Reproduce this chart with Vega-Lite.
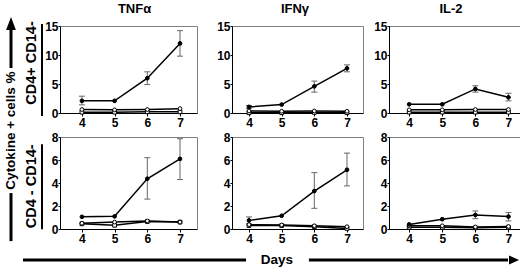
{
"$schema": "https://vega.github.io/schema/vega-lite/v6.json",
"padding": {"left": 3, "top": 2, "right": 0, "bottom": 0},
"background": "white",
"datasets": {
"d": [
{"r":"p","c":"TNF","s":"a","d":4,"v":2.1,"lo":1.4,"hi":2.9},
{"r":"p","c":"TNF","s":"a","d":5,"v":2.1},
{"r":"p","c":"TNF","s":"a","d":6,"v":6.0,"lo":4.9,"hi":7.1},
{"r":"p","c":"TNF","s":"a","d":7,"v":12.0,"lo":9.8,"hi":14.2},
{"r":"p","c":"TNF","s":"b","d":4,"v":0.6},
{"r":"p","c":"TNF","s":"b","d":5,"v":0.55},
{"r":"p","c":"TNF","s":"b","d":6,"v":0.6},
{"r":"p","c":"TNF","s":"b","d":7,"v":0.75},
{"r":"p","c":"TNF","s":"c","d":4,"v":0.15},
{"r":"p","c":"TNF","s":"c","d":5,"v":0.15},
{"r":"p","c":"TNF","s":"c","d":6,"v":0.2},
{"r":"p","c":"TNF","s":"c","d":7,"v":0.2},
{"r":"p","c":"IFN","s":"a","d":4,"v":1.05,"lo":0.8,"hi":1.3},
{"r":"p","c":"IFN","s":"a","d":5,"v":1.45},
{"r":"p","c":"IFN","s":"a","d":6,"v":4.6,"lo":3.6,"hi":5.5},
{"r":"p","c":"IFN","s":"a","d":7,"v":7.7,"lo":7.1,"hi":8.3},
{"r":"p","c":"IFN","s":"b","d":4,"v":0.35},
{"r":"p","c":"IFN","s":"b","d":5,"v":0.3},
{"r":"p","c":"IFN","s":"b","d":6,"v":0.35},
{"r":"p","c":"IFN","s":"b","d":7,"v":0.3},
{"r":"p","c":"IFN","s":"c","d":4,"v":0.05},
{"r":"p","c":"IFN","s":"c","d":5,"v":0.05},
{"r":"p","c":"IFN","s":"c","d":6,"v":0.1},
{"r":"p","c":"IFN","s":"c","d":7,"v":0.05},
{"r":"p","c":"IL2","s":"a","d":4,"v":1.5},
{"r":"p","c":"IL2","s":"a","d":5,"v":1.5},
{"r":"p","c":"IL2","s":"a","d":6,"v":4.15,"lo":3.6,"hi":4.7},
{"r":"p","c":"IL2","s":"a","d":7,"v":2.7,"lo":2.1,"hi":3.4},
{"r":"p","c":"IL2","s":"b","d":4,"v":0.55},
{"r":"p","c":"IL2","s":"b","d":5,"v":0.55},
{"r":"p","c":"IL2","s":"b","d":6,"v":0.6},
{"r":"p","c":"IL2","s":"b","d":7,"v":0.6},
{"r":"p","c":"IL2","s":"c","d":4,"v":0.15},
{"r":"p","c":"IL2","s":"c","d":5,"v":0.15},
{"r":"p","c":"IL2","s":"c","d":6,"v":0.15},
{"r":"p","c":"IL2","s":"c","d":7,"v":0.15},
{"r":"n","c":"TNF","s":"a","d":4,"v":1.06},
{"r":"n","c":"TNF","s":"a","d":5,"v":1.1},
{"r":"n","c":"TNF","s":"a","d":6,"v":4.37,"lo":2.6,"hi":6.2},
{"r":"n","c":"TNF","s":"a","d":7,"v":6.1,"lo":4.3,"hi":7.85},
{"r":"n","c":"TNF","s":"b","d":4,"v":0.5},
{"r":"n","c":"TNF","s":"b","d":5,"v":0.6},
{"r":"n","c":"TNF","s":"b","d":6,"v":0.7},
{"r":"n","c":"TNF","s":"b","d":7,"v":0.6},
{"r":"n","c":"TNF","s":"c","d":4,"v":0.45},
{"r":"n","c":"TNF","s":"c","d":5,"v":0.32},
{"r":"n","c":"TNF","s":"c","d":6,"v":0.65},
{"r":"n","c":"TNF","s":"c","d":7,"v":0.6},
{"r":"n","c":"IFN","s":"a","d":4,"v":0.75,"lo":0.45,"hi":1.05},
{"r":"n","c":"IFN","s":"a","d":5,"v":1.15},
{"r":"n","c":"IFN","s":"a","d":6,"v":3.3,"lo":1.8,"hi":4.9},
{"r":"n","c":"IFN","s":"a","d":7,"v":5.15,"lo":3.75,"hi":6.6},
{"r":"n","c":"IFN","s":"b","d":4,"v":0.38},
{"r":"n","c":"IFN","s":"b","d":5,"v":0.35},
{"r":"n","c":"IFN","s":"b","d":6,"v":0.28},
{"r":"n","c":"IFN","s":"b","d":7,"v":0.2},
{"r":"n","c":"IFN","s":"c","d":4,"v":0.3},
{"r":"n","c":"IFN","s":"c","d":5,"v":0.3},
{"r":"n","c":"IFN","s":"c","d":6,"v":0.2},
{"r":"n","c":"IFN","s":"c","d":7,"v":0.05},
{"r":"n","c":"IL2","s":"a","d":4,"v":0.4},
{"r":"n","c":"IL2","s":"a","d":5,"v":0.85},
{"r":"n","c":"IL2","s":"a","d":6,"v":1.22,"lo":0.9,"hi":1.57},
{"r":"n","c":"IL2","s":"a","d":7,"v":1.08,"lo":0.7,"hi":1.43},
{"r":"n","c":"IL2","s":"b","d":4,"v":0.28},
{"r":"n","c":"IL2","s":"b","d":5,"v":0.28},
{"r":"n","c":"IL2","s":"b","d":6,"v":0.18},
{"r":"n","c":"IL2","s":"b","d":7,"v":0.22},
{"r":"n","c":"IL2","s":"c","d":4,"v":0.15},
{"r":"n","c":"IL2","s":"c","d":5,"v":0.15},
{"r":"n","c":"IL2","s":"c","d":6,"v":0.1},
{"r":"n","c":"IL2","s":"c","d":7,"v":0.15}
]
},
"spacing": 3,
"hconcat": [
{
"width": 14, "height": 207, "view": {"stroke": null},
"layer": [
{"data": {"values": [{"x": 50, "y": -3.9, "y2": 19.3}, {"x": 50, "y": 79.7, "y2": 98.1}]},
 "mark": {"type": "rule", "color": "#000", "strokeWidth": 3},
 "encoding": {"x": {"field": "x", "type": "quantitative", "scale": {"domain": [0, 100], "nice": false, "zero": false}, "axis": null},
  "y": {"field": "y", "type": "quantitative", "scale": {"domain": [0, 100], "nice": false, "zero": false}, "axis": null},
  "y2": {"field": "y2"}}},
{"data": {"values": [{"x": 50, "y": 49.5, "t": "Cytokine + cells %"}]},
 "mark": {"type": "text", "angle": 270, "fontSize": 13.5, "fontWeight": "bold", "align": "center", "baseline": "middle", "color": "#000", "font": "Liberation Sans"},
 "encoding": {"x": {"field": "x", "type": "quantitative", "scale": {"domain": [0, 100], "nice": false, "zero": false}, "axis": null},
  "y": {"field": "y", "type": "quantitative", "scale": {"domain": [0, 100], "nice": false, "zero": false}, "axis": null},
  "text": {"field": "t"}}},
{"data": {"values": [{"x": 50, "y": 101.2}]},
 "mark": {"type": "point", "shape": "M0,-1L-0.75,1L0.75,1Z", "size": 169, "filled": true, "color": "#000", "opacity": 1, "strokeWidth": 0},
 "encoding": {"x": {"field": "x", "type": "quantitative", "scale": {"domain": [0, 100], "nice": false, "zero": false}, "axis": null},
  "y": {"field": "y", "type": "quantitative", "scale": {"domain": [0, 100], "nice": false, "zero": false}, "axis": null}}}
]
},
{
"spacing": 8,
"vconcat": [
{
"columns": 4, "align": "each", "spacing": {"row": 1, "column": 0},
"concat": [
{
"width": 21, "height": 87, "title": {"text": " "}, "view": {"stroke": null},
"data": {"values": [{"x": 0.52, "y": 0.575, "t": "CD4+ CD14-", "bx": 1, "yb": -0.034, "yt": 1.023}]},
"layer": [
{"mark": {"type": "text", "angle": 270, "fontSize": 14.5, "fontWeight": "bold", "align": "center", "baseline": "middle", "color": "#000", "font": "Liberation Sans"},
 "encoding": {"x": {"field": "x", "type": "quantitative", "scale": {"domain": [0, 1], "nice": false, "zero": false}, "axis": null},
  "y": {"field": "y", "type": "quantitative", "scale": {"domain": [0, 1], "nice": false, "zero": false}, "axis": null},
  "text": {"field": "t"}}},
{"mark": {"type": "rule", "color": "#000", "strokeWidth": 2},
 "encoding": {"x": {"field": "bx", "type": "quantitative", "scale": {"domain": [0, 1], "nice": false, "zero": false}, "axis": null},
  "y": {"field": "yb", "type": "quantitative", "scale": {"domain": [0, 1], "nice": false, "zero": false}, "axis": null},
  "y2": {"field": "yt"}}}
]
},
{
"width": 137, "height": 87, "title": {"text": "TNFα", "dx": 6},
"data": {"name": "d"},
"transform": [{"filter": "datum.r === 'p' && datum.c === 'TNF'"}],
"encoding": {"x": {"field": "d", "type": "quantitative", "scale": {"domain": [3.33, 7.52], "nice": false, "zero": false}, "axis": {"values": [4, 5, 6, 7], "title": null, "format": "d"}}},
"layer": [
{"transform": [{"filter": "isValid(datum.hi)"}], "mark": {"type": "rule", "color": "#666", "strokeWidth": 1},
 "encoding": {"y": {"field": "lo", "type": "quantitative", "scale": {"domain": [0, 15], "nice": false}, "axis": {"values": [0, 5, 10, 15], "title": null, "minExtent": 16}}, "y2": {"field": "hi"}}},
{"transform": [{"filter": "isValid(datum.hi)"}], "mark": {"type": "tick", "orient": "horizontal", "color": "#666", "size": 6, "thickness": 1, "opacity": 1},
 "encoding": {"y": {"field": "lo", "type": "quantitative", "scale": {"domain": [0, 15], "nice": false}, "axis": {"values": [0, 5, 10, 15], "title": null, "minExtent": 16}}}},
{"transform": [{"filter": "isValid(datum.hi)"}], "mark": {"type": "tick", "orient": "horizontal", "color": "#666", "size": 6, "thickness": 1, "opacity": 1},
 "encoding": {"y": {"field": "hi", "type": "quantitative", "scale": {"domain": [0, 15], "nice": false}, "axis": {"values": [0, 5, 10, 15], "title": null, "minExtent": 16}}}},
{"mark": {"type": "line", "color": "#000", "strokeWidth": 1.5},
 "encoding": {"y": {"field": "v", "type": "quantitative", "scale": {"domain": [0, 15], "nice": false}, "axis": {"values": [0, 5, 10, 15], "title": null, "minExtent": 16}}, "detail": {"field": "s"}}},
{"mark": {"type": "point", "opacity": 1, "fillOpacity": 1, "stroke": "#000", "strokeWidth": 1, "size": 14},
 "encoding": {"y": {"field": "v", "type": "quantitative", "scale": {"domain": [0, 15], "nice": false}, "axis": {"values": [0, 5, 10, 15], "title": null, "minExtent": 16}},
  "shape": {"field": "s", "type": "nominal", "scale": {"domain": ["c", "b", "a"], "range": ["square", "circle", "circle"]}, "legend": null},
  "fill": {"field": "s", "type": "nominal", "scale": {"domain": ["c", "b", "a"], "range": ["#ffffff", "#ffffff", "#000000"]}, "legend": null},
  "order": {"field": "s", "sort": "descending"}}}
]
},
{
"width": 131, "height": 87, "title": {"text": "IFNγ", "dx": -2.5},
"data": {"name": "d"},
"transform": [{"filter": "datum.r === 'p' && datum.c === 'IFN'"}],
"encoding": {"x": {"field": "d", "type": "quantitative", "scale": {"domain": [3.48, 7.49], "nice": false, "zero": false}, "axis": {"values": [4, 5, 6, 7], "title": null, "format": "d"}}},
"layer": [
{"transform": [{"filter": "isValid(datum.hi)"}], "mark": {"type": "rule", "color": "#666", "strokeWidth": 1},
 "encoding": {"y": {"field": "lo", "type": "quantitative", "scale": {"domain": [0, 15], "nice": false}, "axis": {"values": [0, 5, 10, 15], "title": null, "minExtent": 33}}, "y2": {"field": "hi"}}},
{"transform": [{"filter": "isValid(datum.hi)"}], "mark": {"type": "tick", "orient": "horizontal", "color": "#666", "size": 6, "thickness": 1, "opacity": 1},
 "encoding": {"y": {"field": "lo", "type": "quantitative", "scale": {"domain": [0, 15], "nice": false}, "axis": {"values": [0, 5, 10, 15], "title": null, "minExtent": 33}}}},
{"transform": [{"filter": "isValid(datum.hi)"}], "mark": {"type": "tick", "orient": "horizontal", "color": "#666", "size": 6, "thickness": 1, "opacity": 1},
 "encoding": {"y": {"field": "hi", "type": "quantitative", "scale": {"domain": [0, 15], "nice": false}, "axis": {"values": [0, 5, 10, 15], "title": null, "minExtent": 33}}}},
{"mark": {"type": "line", "color": "#000", "strokeWidth": 1.5},
 "encoding": {"y": {"field": "v", "type": "quantitative", "scale": {"domain": [0, 15], "nice": false}, "axis": {"values": [0, 5, 10, 15], "title": null, "minExtent": 33}}, "detail": {"field": "s"}}},
{"mark": {"type": "point", "opacity": 1, "fillOpacity": 1, "stroke": "#000", "strokeWidth": 1, "size": 14},
 "encoding": {"y": {"field": "v", "type": "quantitative", "scale": {"domain": [0, 15], "nice": false}, "axis": {"values": [0, 5, 10, 15], "title": null, "minExtent": 33}},
  "shape": {"field": "s", "type": "nominal", "scale": {"domain": ["c", "b", "a"], "range": ["square", "circle", "circle"]}, "legend": null},
  "fill": {"field": "s", "type": "nominal", "scale": {"domain": ["c", "b", "a"], "range": ["#ffffff", "#ffffff", "#000000"]}, "legend": null},
  "order": {"field": "s", "sort": "descending"}}}
]
},
{
"width": 136, "height": 87, "title": {"text": "IL-2", "dx": -6},
"data": {"name": "d"},
"transform": [{"filter": "datum.r === 'p' && datum.c === 'IL2'"}],
"encoding": {"x": {"field": "d", "type": "quantitative", "scale": {"domain": [3.39, 7.5], "nice": false, "zero": false}, "axis": {"values": [4, 5, 6, 7], "title": null, "format": "d"}}},
"layer": [
{"transform": [{"filter": "isValid(datum.hi)"}], "mark": {"type": "rule", "color": "#666", "strokeWidth": 1},
 "encoding": {"y": {"field": "lo", "type": "quantitative", "scale": {"domain": [0, 15], "nice": false}, "axis": {"values": [0, 5, 10, 15], "title": null, "minExtent": 24}}, "y2": {"field": "hi"}}},
{"transform": [{"filter": "isValid(datum.hi)"}], "mark": {"type": "tick", "orient": "horizontal", "color": "#666", "size": 6, "thickness": 1, "opacity": 1},
 "encoding": {"y": {"field": "lo", "type": "quantitative", "scale": {"domain": [0, 15], "nice": false}, "axis": {"values": [0, 5, 10, 15], "title": null, "minExtent": 24}}}},
{"transform": [{"filter": "isValid(datum.hi)"}], "mark": {"type": "tick", "orient": "horizontal", "color": "#666", "size": 6, "thickness": 1, "opacity": 1},
 "encoding": {"y": {"field": "hi", "type": "quantitative", "scale": {"domain": [0, 15], "nice": false}, "axis": {"values": [0, 5, 10, 15], "title": null, "minExtent": 24}}}},
{"mark": {"type": "line", "color": "#000", "strokeWidth": 1.5},
 "encoding": {"y": {"field": "v", "type": "quantitative", "scale": {"domain": [0, 15], "nice": false}, "axis": {"values": [0, 5, 10, 15], "title": null, "minExtent": 24}}, "detail": {"field": "s"}}},
{"mark": {"type": "point", "opacity": 1, "fillOpacity": 1, "stroke": "#000", "strokeWidth": 1, "size": 14},
 "encoding": {"y": {"field": "v", "type": "quantitative", "scale": {"domain": [0, 15], "nice": false}, "axis": {"values": [0, 5, 10, 15], "title": null, "minExtent": 24}},
  "shape": {"field": "s", "type": "nominal", "scale": {"domain": ["c", "b", "a"], "range": ["square", "circle", "circle"]}, "legend": null},
  "fill": {"field": "s", "type": "nominal", "scale": {"domain": ["c", "b", "a"], "range": ["#ffffff", "#ffffff", "#000000"]}, "legend": null},
  "order": {"field": "s", "sort": "descending"}}}
]
},
{
"width": 21, "height": 92, "view": {"stroke": null},
"data": {"values": [{"x": 0.52, "y": 0.464, "t": "CD4 - CD14-", "bx": 1, "yb": -0.003, "yt": 0.92}]},
"layer": [
{"mark": {"type": "text", "angle": 270, "fontSize": 14.5, "fontWeight": "bold", "align": "center", "baseline": "middle", "color": "#000", "font": "Liberation Sans"},
 "encoding": {"x": {"field": "x", "type": "quantitative", "scale": {"domain": [0, 1], "nice": false, "zero": false}, "axis": null},
  "y": {"field": "y", "type": "quantitative", "scale": {"domain": [0, 1], "nice": false, "zero": false}, "axis": null},
  "text": {"field": "t"}}},
{"mark": {"type": "rule", "color": "#000", "strokeWidth": 2},
 "encoding": {"x": {"field": "bx", "type": "quantitative", "scale": {"domain": [0, 1], "nice": false, "zero": false}, "axis": null},
  "y": {"field": "yb", "type": "quantitative", "scale": {"domain": [0, 1], "nice": false, "zero": false}, "axis": null},
  "y2": {"field": "yt"}}}
]
},
{
"width": 137, "height": 92,
"data": {"name": "d"},
"transform": [{"filter": "datum.r === 'n' && datum.c === 'TNF'"}],
"encoding": {"x": {"field": "d", "type": "quantitative", "scale": {"domain": [3.33, 7.52], "nice": false, "zero": false}, "axis": {"values": [4, 5, 6, 7], "title": null, "format": "d"}}},
"layer": [
{"transform": [{"filter": "isValid(datum.hi)"}], "mark": {"type": "rule", "color": "#666", "strokeWidth": 1},
 "encoding": {"y": {"field": "lo", "type": "quantitative", "scale": {"domain": [0, 8], "nice": false}, "axis": {"values": [0, 2, 4, 6, 8], "title": null, "minExtent": 16}}, "y2": {"field": "hi"}}},
{"transform": [{"filter": "isValid(datum.hi)"}], "mark": {"type": "tick", "orient": "horizontal", "color": "#666", "size": 6, "thickness": 1, "opacity": 1},
 "encoding": {"y": {"field": "lo", "type": "quantitative", "scale": {"domain": [0, 8], "nice": false}, "axis": {"values": [0, 2, 4, 6, 8], "title": null, "minExtent": 16}}}},
{"transform": [{"filter": "isValid(datum.hi)"}], "mark": {"type": "tick", "orient": "horizontal", "color": "#666", "size": 6, "thickness": 1, "opacity": 1},
 "encoding": {"y": {"field": "hi", "type": "quantitative", "scale": {"domain": [0, 8], "nice": false}, "axis": {"values": [0, 2, 4, 6, 8], "title": null, "minExtent": 16}}}},
{"mark": {"type": "line", "color": "#000", "strokeWidth": 1.5},
 "encoding": {"y": {"field": "v", "type": "quantitative", "scale": {"domain": [0, 8], "nice": false}, "axis": {"values": [0, 2, 4, 6, 8], "title": null, "minExtent": 16}}, "detail": {"field": "s"}}},
{"mark": {"type": "point", "opacity": 1, "fillOpacity": 1, "stroke": "#000", "strokeWidth": 1, "size": 14},
 "encoding": {"y": {"field": "v", "type": "quantitative", "scale": {"domain": [0, 8], "nice": false}, "axis": {"values": [0, 2, 4, 6, 8], "title": null, "minExtent": 16}},
  "shape": {"field": "s", "type": "nominal", "scale": {"domain": ["c", "b", "a"], "range": ["square", "circle", "circle"]}, "legend": null},
  "fill": {"field": "s", "type": "nominal", "scale": {"domain": ["c", "b", "a"], "range": ["#ffffff", "#ffffff", "#000000"]}, "legend": null},
  "order": {"field": "s", "sort": "descending"}}}
]
},
{
"width": 131, "height": 92,
"data": {"name": "d"},
"transform": [{"filter": "datum.r === 'n' && datum.c === 'IFN'"}],
"encoding": {"x": {"field": "d", "type": "quantitative", "scale": {"domain": [3.48, 7.49], "nice": false, "zero": false}, "axis": {"values": [4, 5, 6, 7], "title": null, "format": "d"}}},
"layer": [
{"transform": [{"filter": "isValid(datum.hi)"}], "mark": {"type": "rule", "color": "#666", "strokeWidth": 1},
 "encoding": {"y": {"field": "lo", "type": "quantitative", "scale": {"domain": [0, 8], "nice": false}, "axis": {"values": [0, 2, 4, 6, 8], "title": null, "minExtent": 33}}, "y2": {"field": "hi"}}},
{"transform": [{"filter": "isValid(datum.hi)"}], "mark": {"type": "tick", "orient": "horizontal", "color": "#666", "size": 6, "thickness": 1, "opacity": 1},
 "encoding": {"y": {"field": "lo", "type": "quantitative", "scale": {"domain": [0, 8], "nice": false}, "axis": {"values": [0, 2, 4, 6, 8], "title": null, "minExtent": 33}}}},
{"transform": [{"filter": "isValid(datum.hi)"}], "mark": {"type": "tick", "orient": "horizontal", "color": "#666", "size": 6, "thickness": 1, "opacity": 1},
 "encoding": {"y": {"field": "hi", "type": "quantitative", "scale": {"domain": [0, 8], "nice": false}, "axis": {"values": [0, 2, 4, 6, 8], "title": null, "minExtent": 33}}}},
{"mark": {"type": "line", "color": "#000", "strokeWidth": 1.5},
 "encoding": {"y": {"field": "v", "type": "quantitative", "scale": {"domain": [0, 8], "nice": false}, "axis": {"values": [0, 2, 4, 6, 8], "title": null, "minExtent": 33}}, "detail": {"field": "s"}}},
{"mark": {"type": "point", "opacity": 1, "fillOpacity": 1, "stroke": "#000", "strokeWidth": 1, "size": 14},
 "encoding": {"y": {"field": "v", "type": "quantitative", "scale": {"domain": [0, 8], "nice": false}, "axis": {"values": [0, 2, 4, 6, 8], "title": null, "minExtent": 33}},
  "shape": {"field": "s", "type": "nominal", "scale": {"domain": ["c", "b", "a"], "range": ["square", "circle", "circle"]}, "legend": null},
  "fill": {"field": "s", "type": "nominal", "scale": {"domain": ["c", "b", "a"], "range": ["#ffffff", "#ffffff", "#000000"]}, "legend": null},
  "order": {"field": "s", "sort": "descending"}}}
]
},
{
"width": 136, "height": 92,
"data": {"name": "d"},
"transform": [{"filter": "datum.r === 'n' && datum.c === 'IL2'"}],
"encoding": {"x": {"field": "d", "type": "quantitative", "scale": {"domain": [3.39, 7.5], "nice": false, "zero": false}, "axis": {"values": [4, 5, 6, 7], "title": null, "format": "d"}}},
"layer": [
{"transform": [{"filter": "isValid(datum.hi)"}], "mark": {"type": "rule", "color": "#666", "strokeWidth": 1},
 "encoding": {"y": {"field": "lo", "type": "quantitative", "scale": {"domain": [0, 8], "nice": false}, "axis": {"values": [0, 2, 4, 6, 8], "title": null, "minExtent": 24}}, "y2": {"field": "hi"}}},
{"transform": [{"filter": "isValid(datum.hi)"}], "mark": {"type": "tick", "orient": "horizontal", "color": "#666", "size": 6, "thickness": 1, "opacity": 1},
 "encoding": {"y": {"field": "lo", "type": "quantitative", "scale": {"domain": [0, 8], "nice": false}, "axis": {"values": [0, 2, 4, 6, 8], "title": null, "minExtent": 24}}}},
{"transform": [{"filter": "isValid(datum.hi)"}], "mark": {"type": "tick", "orient": "horizontal", "color": "#666", "size": 6, "thickness": 1, "opacity": 1},
 "encoding": {"y": {"field": "hi", "type": "quantitative", "scale": {"domain": [0, 8], "nice": false}, "axis": {"values": [0, 2, 4, 6, 8], "title": null, "minExtent": 24}}}},
{"mark": {"type": "line", "color": "#000", "strokeWidth": 1.5},
 "encoding": {"y": {"field": "v", "type": "quantitative", "scale": {"domain": [0, 8], "nice": false}, "axis": {"values": [0, 2, 4, 6, 8], "title": null, "minExtent": 24}}, "detail": {"field": "s"}}},
{"mark": {"type": "point", "opacity": 1, "fillOpacity": 1, "stroke": "#000", "strokeWidth": 1, "size": 14},
 "encoding": {"y": {"field": "v", "type": "quantitative", "scale": {"domain": [0, 8], "nice": false}, "axis": {"values": [0, 2, 4, 6, 8], "title": null, "minExtent": 24}},
  "shape": {"field": "s", "type": "nominal", "scale": {"domain": ["c", "b", "a"], "range": ["square", "circle", "circle"]}, "legend": null},
  "fill": {"field": "s", "type": "nominal", "scale": {"domain": ["c", "b", "a"], "range": ["#ffffff", "#ffffff", "#000000"]}, "legend": null},
  "order": {"field": "s", "sort": "descending"}}}
]
}
]
},
{
"width": 499, "height": 14, "view": {"stroke": null},
"layer": [
{"data": {"values": [{"x": 0.4, "x2": 45.1, "y": 0.5}, {"x": 57.7, "x2": 97.6, "y": 0.5}]},
 "mark": {"type": "rule", "color": "#000", "strokeWidth": 3},
 "encoding": {"x": {"field": "x", "type": "quantitative", "scale": {"domain": [0, 100], "nice": false, "zero": false}, "axis": null},
  "x2": {"field": "x2"},
  "y": {"field": "y", "type": "quantitative", "scale": {"domain": [0, 1], "nice": false, "zero": false}, "axis": null}}},
{"data": {"values": [{"x": 51.3, "y": 0.5, "t": "Days"}]},
 "mark": {"type": "text", "fontSize": 13.5, "fontWeight": "bold", "align": "center", "baseline": "middle", "color": "#000", "font": "Liberation Sans"},
 "encoding": {"x": {"field": "x", "type": "quantitative", "scale": {"domain": [0, 100], "nice": false, "zero": false}, "axis": null},
  "y": {"field": "y", "type": "quantitative", "scale": {"domain": [0, 1], "nice": false, "zero": false}, "axis": null},
  "text": {"field": "t"}}},
{"data": {"values": [{"x": 98.8, "y": 0.5}]},
 "mark": {"type": "point", "shape": "M1,0L-1,-0.9L-1,0.9Z", "size": 100, "filled": true, "color": "#000", "opacity": 1, "strokeWidth": 0},
 "encoding": {"x": {"field": "x", "type": "quantitative", "scale": {"domain": [0, 100], "nice": false, "zero": false}, "axis": null},
  "y": {"field": "y", "type": "quantitative", "scale": {"domain": [0, 1], "nice": false, "zero": false}, "axis": null}}}
]
}
]
}
],
"config": {
"font": "Liberation Sans",
"view": {"stroke": "#808080", "strokeWidth": 1},
"axis": {"labelFont": "Liberation Sans", "labelFontSize": 12, "labelFontWeight": "bold", "labelColor": "#000", "domainColor": "#000", "domainWidth": 1, "tickColor": "#000", "tickSize": 2, "grid": false, "labelPadding": 0},
"axisX": {"tickSize": 3, "labelPadding": 1, "labelAngle": 0},
"title": {"font": "Liberation Sans", "fontSize": 13, "fontWeight": "bold", "color": "#000", "baseline": "alphabetic", "offset": 0, "frame": "group", "anchor": "middle"}
}
}
